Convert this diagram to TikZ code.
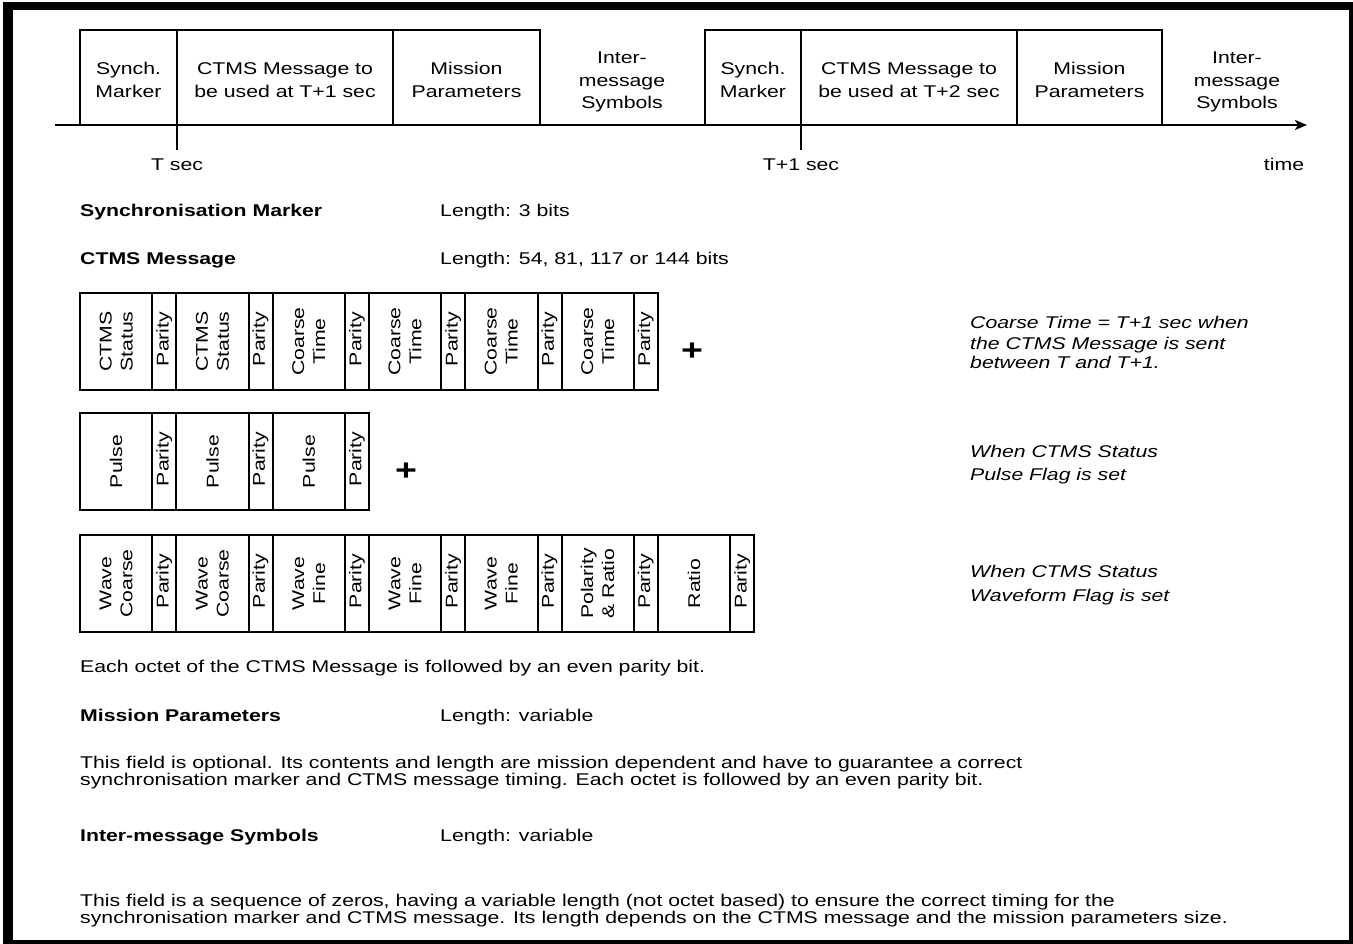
\documentclass[tikz,border=0pt]{standalone}
\usepackage{fontspec}
\setmainfont{Liberation Sans}[FakeStretch=1.25]
\usepackage{tikz}
\usetikzlibrary{arrows.meta}
\tikzset{box/.style = {draw, line width = 2pt}}
\tikzset{timeline/.style = {line width = 2pt, -{Stealth[length=12pt, width=10pt, inset=3pt]}}}
\tikzset{toplabel/.style = {align = center, inner sep = 0, font = \fontsize{17}{22.5}\selectfont}}
\tikzset{rotlabel/.style = {rotate = 90, align = center, inner sep = 0,
                            font = \fontsize{17}{21}\selectfont}}
\tikzset{txt/.style = {anchor = base west, inner sep = 0, font = \fontsize{17}{17}\selectfont}}
\tikzset{head/.style = {txt, font = \fontsize{17}{17}\selectfont\bfseries}}
\tikzset{note/.style = {txt, font = \fontsize{17}{17}\selectfont\itshape}}
\tikzset{plus/.style = {inner sep = 0, font = \fontsize{30}{30}\selectfont\bfseries}}

\begin{document}
\begin{tikzpicture}[x=1pt, y=-1pt]
  \useasboundingbox (0,0) rectangle (1353,944);
  \fill (3,2) rectangle (1353,944);
  \fill [white] (13,10) rectangle (1349,940);

  \coordinate (tstart) at (55,125);
  \coordinate (tend) at (1307,125);
  \draw [timeline] (tstart) -- (tend);
  \draw [box] (80,30) rectangle (540,125);
  \draw [box] (393,30) -- (393,125);
  \draw [box] (705,30) rectangle (1162,125);
  \draw [box] (1017,30) -- (1017,125);
  \coordinate (tick1) at (177,150);
  \coordinate (tick2) at (801,150);
  \draw [box] (177,30) -- (tick1);
  \draw [box] (801,30) -- (tick2);

  \node [toplabel] (sync1) at (128.5,80) {Synch.\\Marker};
  \node [toplabel] (ctms1) at (285,80) {CTMS Message to\\be used at T+1 sec};
  \node [toplabel] (miss1) at (466.5,80) {Mission\\Parameters};
  \node [toplabel] (inter1) at (622,82) {Inter-\\message\\Symbols};
  \node [toplabel] (sync2) at (753,80) {Synch.\\Marker};
  \node [toplabel] (ctms2) at (909,80) {CTMS Message to\\be used at T+2 sec};
  \node [toplabel] (miss2) at (1089.5,80) {Mission\\Parameters};
  \node [toplabel] (inter2) at (1237,82) {Inter-\\message\\Symbols};

  \node [txt, anchor = base] (tsec) at (177,171) {T sec};
  \node [txt, anchor = base] (t1sec) at (801,171) {T+1 sec};
  \node [txt, anchor = base] (time) at (1284,171) {time};

  \node [head] (synchead) at (80,217) {Synchronisation Marker};
  \node [txt] (synclen) at (440,217) {Length: 3 bits};
  \node [head] (ctmshead) at (80,265) {CTMS Message};
  \node [txt] (ctmslen) at (440,265) {Length: 54, 81, 117 or 144 bits};

  \foreach \lab [count=\i from 0] in {{CTMS\\Status}, {CTMS\\Status}, {Coarse\\Time},
                                      {Coarse\\Time}, {Coarse\\Time}, {Coarse\\Time}} {
    \draw [box] ({80+\i*96.3},293) rectangle +(72.3,97);
    \draw [box] ({152.3+\i*96.3},293) rectangle +(24,97);
    \node [rotlabel] (status\i) at ({116.15+\i*96.3},341.5) {\lab};
    \node [rotlabel] (statusp\i) at ({164.3+\i*96.3},339) {Parity};
  }
  \node [plus] (plus1) at (692,352) {+};

  \foreach \i in {0,1,2} {
    \draw [box] ({80+\i*96.3},413) rectangle +(72.3,97);
    \draw [box] ({152.3+\i*96.3},413) rectangle +(24,97);
    \node [rotlabel] (pulse\i) at ({116.15+\i*96.3},461.5) {Pulse};
    \node [rotlabel] (pulsep\i) at ({164.3+\i*96.3},459) {Parity};
  }
  \node [plus] (plus2) at (406,472) {+};

  \foreach \lab [count=\i from 0] in {{Wave\\Coarse}, {Wave\\Coarse}, {Wave\\Fine}, {Wave\\Fine},
                                      {Wave\\Fine}, {Polarity\\\& Ratio}, {Ratio}} {
    \draw [box] ({80+\i*96.3},535) rectangle +(72.3,97);
    \draw [box] ({152.3+\i*96.3},535) rectangle +(24,97);
    \node [rotlabel] (wave\i) at ({116.15+\i*96.3},583.5) {\lab};
    \node [rotlabel] (wavep\i) at ({164.3+\i*96.3},581) {Parity};
  }

  \node [note] (coarse1) at (970,329) {Coarse Time = T+1 sec when};
  \node [note] (coarse2) at (970,349) {the CTMS Message is sent};
  \node [note] (coarse3) at (970,368) {between T and T+1.};
  \node [note] (pulsenote1) at (970,457) {When CTMS Status};
  \node [note] (pulsenote2) at (970,480) {Pulse Flag is set};
  \node [note] (wavenote1) at (970,577) {When CTMS Status};
  \node [note] (wavenote2) at (970,601) {Waveform Flag is set};

  \node [txt] (octet) at (80,672) {Each octet of the CTMS Message is followed by an even parity bit.};

  \node [head] (misshead) at (80,721) {Mission Parameters};
  \node [txt] (misslen) at (440,721) {Length: variable};
  \node [txt] (miss3) at (80,768) {This field is optional. Its contents and length are mission dependent and have to guarantee a correct};
  \node [txt] (miss4) at (80,785) {synchronisation marker and CTMS message timing. Each octet is followed by an even parity bit.};

  \node [head] (interhead) at (80,841) {Inter-message Symbols};
  \node [txt] (interlen) at (440,841) {Length: variable};
  \node [txt] (inter3) at (80,906) {This field is a sequence of zeros, having a variable length (not octet based) to ensure the correct timing for the};
  \node [txt] (inter4) at (80,923) {synchronisation marker and CTMS message. Its length depends on the CTMS message and the mission parameters size.};
\end{tikzpicture}
\end{document}
